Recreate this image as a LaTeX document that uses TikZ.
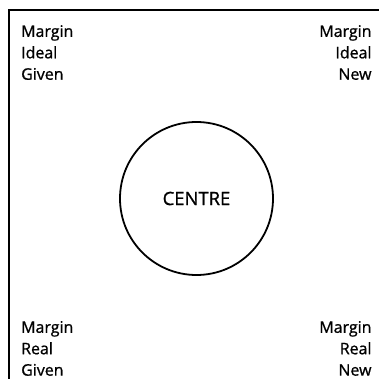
\documentclass[tikz,border=0pt]{standalone}
\usepackage{fontspec}
\setmainfont{Open Sans}
\newfontfamily\rotulo{Open Sans}[FakeBold=0.9]
\begin{document}
\begin{tikzpicture}[x=1bp,y=1bp,
    cantoesq/.style={inner sep=0pt,align=left,font=\rotulo\fontsize{16}{21.5}\selectfont},
    cantodir/.style={inner sep=0pt,align=right,font=\rotulo\fontsize{16}{21.5}\selectfont},
    centro/.style={circle,draw,line width=1.8bp,minimum size=153bp,inner sep=0pt,font=\rotulo\fontsize{18.5}{22}\selectfont}]
        % escala: 1 px da figura = 1 bp
        \useasboundingbox (0,0) rectangle (379,379);
        \draw[line width=2bp] (9,0) -- (9,369) -- (379,369);
        \node[centro] (centre) at (196.5,180.5) {CENTRE};
        \node[cantoesq,anchor=north west] (idealgiven) at (21,354) {Margin\\Ideal\\Given};
        \node[cantodir,anchor=north east] (idealnew) at (371.7,354) {Margin\\Ideal\\New};
        \node[cantoesq,anchor=south west] (realgiven) at (21,3) {Margin\\Real\\Given};
        \node[cantodir,anchor=south east] (realnew) at (371.7,3) {Margin\\Real\\New};
    \end{tikzpicture}
\end{document}
